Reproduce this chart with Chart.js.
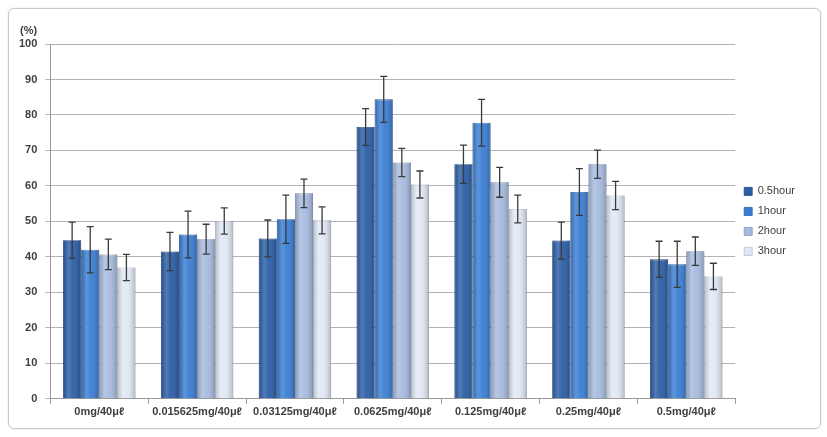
<!DOCTYPE html>
<html>
<head>
<meta charset="utf-8">
<script src="https://cdn.jsdelivr.net/npm/chart.js@4.4.0/dist/chart.umd.min.js"></script>
<style>
html,body{margin:0;padding:0;background:#fff;}
#wrap{position:relative;width:827px;height:437px;}
#frame{position:absolute;left:8px;top:8px;width:811px;height:419px;border:1px solid #c8c8c8;border-radius:6px;box-shadow:0 0 2px #ddd;}
canvas{position:absolute;left:0;top:0;}
</style>
</head>
<body>
<div id="wrap"><div id="frame"></div><canvas id="c" width="827" height="437"></canvas></div>
<script>
const categories = ["0mg/40μℓ","0.015625mg/40μℓ","0.03125mg/40μℓ","0.0625mg/40μℓ","0.125mg/40μℓ","0.25mg/40μℓ","0.5mg/40μℓ"];
const seriesNames = ["0.5hour","1hour","2hour","3hour"];
const v05 = [44.7, 41.5, 45.2, 76.6, 66.1, 44.6, 39.3];
const v1  = [42.0, 46.3, 50.6, 84.4, 77.8, 58.3, 37.9];
const v2  = [40.7, 45.0, 57.9, 66.6, 61.0, 66.1, 41.6];
const v3  = [37.0, 50.1, 50.3, 60.4, 53.5, 57.3, 34.5];
const e05 = [5.1, 5.4, 5.2, 5.2, 5.4, 5.2, 5.1];
const e1  = [6.5, 6.6, 6.8, 6.5, 6.6, 6.6, 6.5];
const e2  = [4.3, 4.2, 4.0, 4.0, 4.2, 4.0, 4.0];
const e3  = [3.7, 3.7, 3.8, 3.8, 3.9, 4.0, 3.7];
const yTicks = [0,10,20,30,40,50,60,70,80,90,100];

const colors = ["#2a5ea6","#3a7ed3","#a7bbdf","#e1e8f4"];
const edgeColors = ["#1d4580","#2a5fa8","#7f96c0","#b5c2d8"];
const errs = [e05,e1,e2,e3];

const FONT = {family:"'Liberation Sans', Arial, sans-serif", size:11, weight:"bold"};

const errorBarPlugin = {
  id:'errorBars',
  afterDatasetsDraw(chart){
    const ctx = chart.ctx, ys = chart.scales.y;
    chart.data.datasets.forEach((ds, di) => {
      const meta = chart.getDatasetMeta(di);
      meta.data.forEach((bar, i) => {
        const left = bar.x - bar.width/2, right = bar.x + bar.width/2;
        const g = ctx.createLinearGradient(left,0,right,0);
        g.addColorStop(0,'rgba(0,0,0,0.18)');
        g.addColorStop(0.3,'rgba(255,255,255,0.18)');
        g.addColorStop(0.55,'rgba(255,255,255,0.05)');
        g.addColorStop(1,'rgba(0,0,0,0.22)');
        ctx.save();
        ctx.fillStyle = g;
        ctx.fillRect(left, bar.y, bar.width, bar.base - bar.y);
        ctx.restore();
      });
    });
    chart.data.datasets.forEach((ds, di) => {
      const meta = chart.getDatasetMeta(di);
      meta.data.forEach((bar, i) => {
        const v = ds.data[i], e = errs[di][i];
        const yt = ys.getPixelForValue(v + e), yb = ys.getPixelForValue(v - e);
        ctx.save();
        ctx.strokeStyle = '#3a3a3a';
        ctx.lineWidth = 1.3;
        ctx.beginPath();
        ctx.moveTo(bar.x, yt); ctx.lineTo(bar.x, yb);
        ctx.moveTo(bar.x-3.5, yt); ctx.lineTo(bar.x+3.5, yt);
        ctx.moveTo(bar.x-3.5, yb); ctx.lineTo(bar.x+3.5, yb);
        ctx.stroke();
        ctx.restore();
      });
    });
  }
};

const unitPlugin = {
  id:'unitLabel',
  afterDraw(chart){
    const ctx = chart.ctx;
    ctx.save();
    ctx.font = "bold 11px 'Liberation Sans', Arial, sans-serif";
    ctx.fillStyle = '#404040';
    ctx.textAlign = 'left';
    ctx.textBaseline = 'middle';
    ctx.fillText('(%)', 20, 31);
    ctx.restore();
  }
};

new Chart(document.getElementById('c'), {
  type:'bar',
  data:{
    labels: categories,
    datasets: [v05,v1,v2,v3].map((d,i)=>({
      label: seriesNames[i],
      data: d,
      backgroundColor: colors[i],
      borderColor: edgeColors[i],
      borderWidth: 0.8,
      barPercentage: 1.0,
      categoryPercentage: 0.74
    }))
  },
  options:{
    responsive:false,
    animation:false,
    devicePixelRatio:1,
    layout:{padding:{left:11,right:22,top:44,bottom:16}},
    plugins:{
      legend:{
        position:'right',
        fullSize:false,
        labels:{boxWidth:8, boxHeight:8, padding:9, color:'#404040', font:{family:"'Liberation Sans', Arial, sans-serif", size:11}}
      },
      tooltip:{enabled:false}
    },
    scales:{
      x:{
        grid:{display:true, drawOnChartArea:false, offset:true, tickLength:5, color:'#999'},
        border:{color:'#999'},
        ticks:{color:'#404040', font:FONT, padding:2, maxRotation:0, autoSkip:false}
      },
      y:{
        min:0, max:100,
        afterBuildTicks(ax){ ax.ticks = yTicks.map(v=>({value:v})); },
        grid:{color:'#b4b4b4', tickLength:5, lineWidth:1},
        border:{color:'#999'},
        ticks:{color:'#404040', font:FONT, padding:8}
      }
    }
  },
  plugins:[errorBarPlugin, unitPlugin]
});
</script>
</body>
</html>
